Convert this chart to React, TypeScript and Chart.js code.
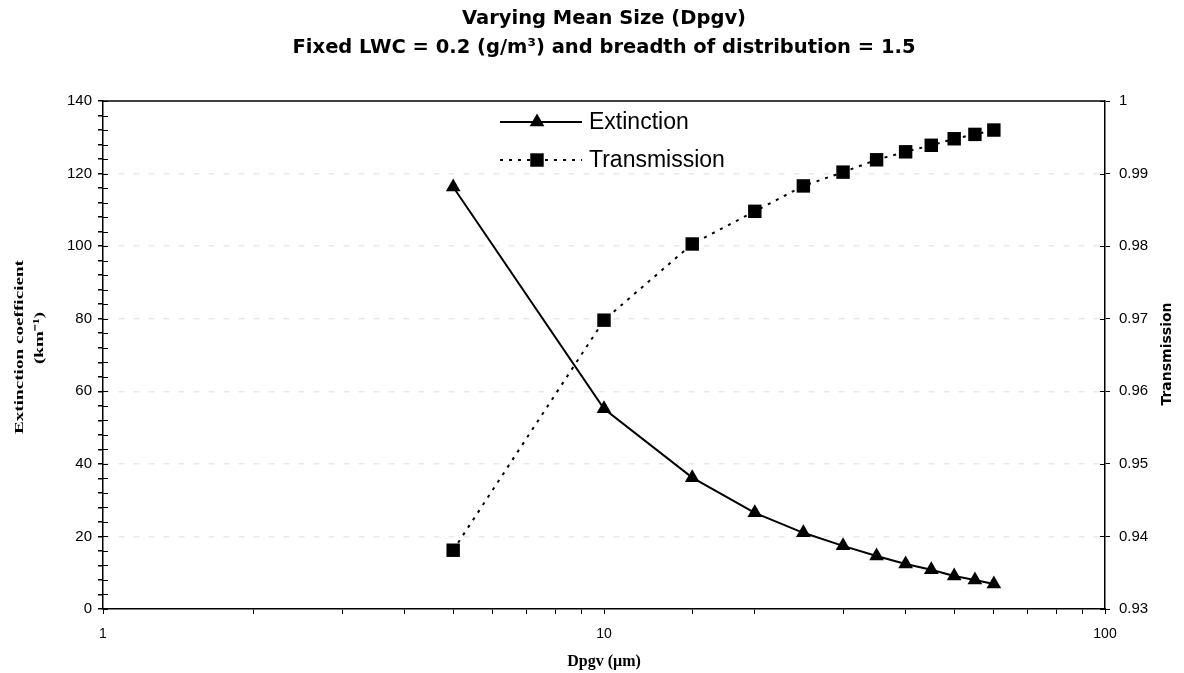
import React, { useEffect, useRef } from 'react';
import { Chart, registerables } from 'chart.js';

Chart.register(...registerables);

// ---- data ----
const diameters = [5, 10, 15, 20, 25, 30, 35, 40, 45, 50, 55, 60];
const extinction = [116.3, 55.2, 36.2, 26.5, 21.0, 17.4, 14.6, 12.4, 10.8, 9.1, 8.0, 6.9];
const transmission = [0.9381, 0.9698, 0.9803, 0.9848, 0.9883, 0.9902, 0.9919, 0.993, 0.9939, 0.9948, 0.9954, 0.996];
const seriesNames = ['Extinction', 'Transmission'];
const titleLines = ['Varying Mean Size (Dpgv)', 'Fixed LWC = 0.2 (g/m\u00B3) and breadth of distribution = 1.5'];
const leftAxisTitle = ['Extinction coefficient', '(km\u207B\u00B9)'];
const rightAxisTitle = 'Transmission';
const xAxisTitle = 'Dpgv (\u00B5m)';
const xTickLabels = [1, 10, 100];

const decorPlugin = {
  id: 'decor',
  afterDraw(chart: any) {
    const { ctx, chartArea: a, scales } = chart;
    ctx.save();
    // top frame line
    ctx.strokeStyle = '#000';
    ctx.lineWidth = 1.5;
    ctx.beginPath();
    ctx.moveTo(a.left, a.top);
    ctx.lineTo(a.right, a.top);
    ctx.stroke();
    // inward halves of the crossing tick marks
    ctx.lineWidth = 1;
    ctx.beginPath();
    scales.y.ticks.forEach((t: any) => {
      const py = Math.round(scales.y.getPixelForValue(t.value)) + 0.5;
      ctx.moveTo(a.left, py);
      ctx.lineTo(a.left + 5, py);
    });
    scales.y1.ticks.forEach((t: any) => {
      const py = Math.round(scales.y1.getPixelForValue(t.value)) + 0.5;
      ctx.moveTo(a.right - 5, py);
      ctx.lineTo(a.right, py);
    });
    ctx.stroke();
    ctx.restore();

    // left axis title (two lines, reads bottom-to-top, stretched like the scan)
    ctx.save();
    ctx.fillStyle = '#000';
    ctx.textAlign = 'center';
    ctx.textBaseline = 'middle';
    ctx.font = 'bold 13.5px "Liberation Serif", "Times New Roman", serif';
    const w0 = ctx.measureText(leftAxisTitle[0]).width;
    const k = 174 / w0;
    [[20, 347], [40, 338]].forEach(([px, py], i) => {
      ctx.save();
      ctx.translate(px, py);
      ctx.rotate(-Math.PI / 2);
      ctx.scale(k, 1);
      ctx.fillText(leftAxisTitle[i], 0, 0);
      ctx.restore();
    });
    ctx.restore();

    // right axis title (reads bottom-to-top)
    ctx.save();
    ctx.translate(a.right + 62, 354);
    ctx.rotate(-Math.PI / 2);
    ctx.font = 'bold 14px "DejaVu Sans", sans-serif';
    ctx.textAlign = 'center';
    ctx.textBaseline = 'middle';
    ctx.fillStyle = '#000';
    ctx.fillText(rightAxisTitle, 0, 0);
    ctx.restore();

    // legend inside plot
    const cx = (a.left + a.right) / 2;
    const x0 = cx - 104;
    const x1 = cx - 22;
    const mx = cx - 67;
    const tx = cx - 15;
    chart.data.datasets.forEach((ds: any, i: number) => {
      const y = a.top + 21 + i * 38;
      ctx.save();
      ctx.strokeStyle = '#000';
      ctx.lineWidth = 2;
      ctx.setLineDash(ds.borderDash || []);
      ctx.beginPath();
      ctx.moveTo(x0, y);
      ctx.lineTo(x1, y);
      ctx.stroke();
      ctx.setLineDash([]);
      ctx.fillStyle = '#000';
      const r = ds.pointRadius;
      ctx.beginPath();
      if (ds.pointStyle === 'triangle') {
        ctx.moveTo(mx, y - r);
        ctx.lineTo(mx + r * Math.sin((2 * Math.PI) / 3), y + r / 2);
        ctx.lineTo(mx - r * Math.sin((2 * Math.PI) / 3), y + r / 2);
        ctx.closePath();
      } else {
        const s = r * Math.SQRT1_2;
        ctx.rect(mx - s, y - s, 2 * s, 2 * s);
      }
      ctx.fill();
      ctx.font = '23px "Liberation Sans", Arial, sans-serif';
      ctx.textAlign = 'left';
      ctx.textBaseline = 'middle';
      ctx.fillText(ds.label, tx, y + 1);
      ctx.restore();
    });
  },
};

export default function App() {
  const ref = useRef<HTMLCanvasElement | null>(null);

  useEffect(() => {
    if (!ref.current) return;
    const tickFont = { family: '"Liberation Sans", Arial, sans-serif', size: 15 };
    const chart = new Chart(ref.current, {
      type: 'line',
      data: {
        datasets: [
          {
            label: seriesNames[0],
            data: diameters.map((d, i) => ({ x: d, y: extinction[i] })),
            yAxisID: 'y',
            borderColor: '#000',
            backgroundColor: '#000',
            borderWidth: 2,
            pointStyle: 'triangle',
            pointRadius: 8.5,
            pointBorderWidth: 0,
            pointBackgroundColor: '#000',
            tension: 0,
          },
          {
            label: seriesNames[1],
            data: diameters.map((d, i) => ({ x: d, y: transmission[i] })),
            yAxisID: 'y1',
            borderColor: '#000',
            backgroundColor: '#000',
            borderWidth: 2,
            borderDash: [3, 6],
            pointStyle: 'rect',
            pointRadius: 9.5,
            pointBorderWidth: 0,
            pointBackgroundColor: '#000',
            tension: 0,
          },
        ],
      },
      options: {
        animation: false,
        responsive: false,
        layout: { padding: 0 },
        plugins: {
          legend: { display: false },
          tooltip: { enabled: false },
          title: {
            display: true,
            fullSize: false,
            text: titleLines,
            color: '#000',
            font: { family: '"DejaVu Sans", Verdana, sans-serif', size: 19.5, weight: 'bold', lineHeight: 1.48 },
            padding: { top: 5, bottom: 38.3 },
          },
        },
        scales: {
          x: {
            type: 'logarithmic',
            position: 'bottom',
            min: 1,
            max: 100,
            afterFit: (s: any) => { s.height = 64; },
            ticks: {
              autoSkip: false,
              maxRotation: 0,
              padding: 12,
              color: '#000',
              font: { family: '"Liberation Sans Narrow", "Liberation Sans", Arial, sans-serif', size: 14 },
              callback: (v: any) => (xTickLabels.includes(Number(v)) ? String(v) : ''),
            },
            grid: { drawOnChartArea: false, tickLength: 5, tickColor: '#000', color: '#000' },
            border: { color: '#000', width: 1.5 },
            title: {
              display: true,
              text: xAxisTitle,
              color: '#000',
              font: { family: '"Liberation Serif", "Times New Roman", serif', size: 16, weight: 'bold' },
              padding: { top: 0, bottom: 1.4 },
            },
          },
          y: {
            type: 'linear',
            position: 'left',
            min: 0,
            max: 140,
            afterFit: (s: any) => { s.width = 103; },
            ticks: {
              stepSize: 4,
              autoSkip: false,
              padding: 6,
              color: '#000',
              font: tickFont,
              callback: (v: any) => (Number(v) % 20 === 0 ? String(v) : ''),
            },
            grid: {
              color: (c: any) => {
                const v = c.tick ? c.tick.value : 0;
                return v % 20 === 0 && v !== 0 && v !== 140 ? 'rgba(0,0,0,0.09)' : 'rgba(0,0,0,0)';
              },
              lineWidth: 1.5,
              tickColor: '#000',
              tickLength: 5,
            },
            border: { color: '#000', width: 1.5, dash: [6, 9] },
          },
          y1: {
            type: 'linear',
            position: 'right',
            min: 0.93,
            max: 1,
            afterFit: (s: any) => { s.width = 79; },
            ticks: {
              stepSize: 0.01,
              padding: 9,
              color: '#000',
              font: tickFont,
              callback: (v: any) => String(Number(Number(v).toFixed(2))),
            },
            grid: { drawOnChartArea: false, tickColor: '#000', tickLength: 5 },
            border: { color: '#000', width: 1.5 },
          },
        },
      },
      plugins: [decorPlugin],
    } as any);
    return () => chart.destroy();
  }, []);

  return (
    <div style={{ position: 'absolute', left: 0, top: 0, width: 1184, height: 673, background: '#fff' }}>
      <canvas ref={ref} width={1184} height={673} style={{ display: 'block' }} />
    </div>
  );
}
